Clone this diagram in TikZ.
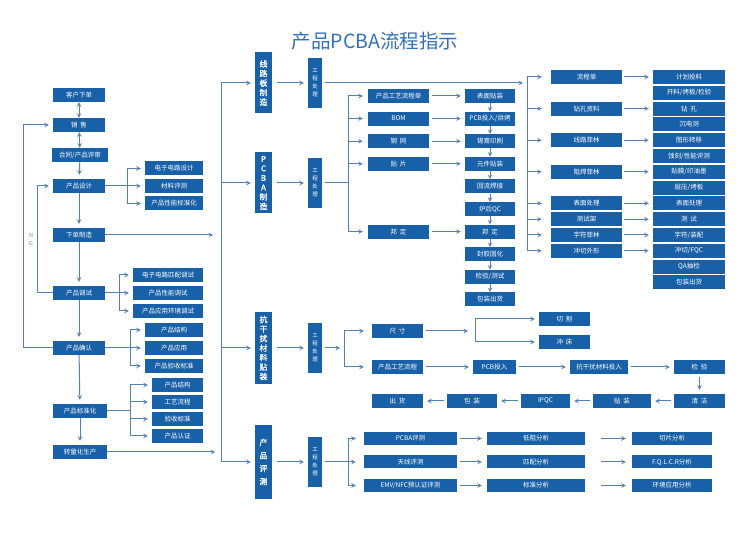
\documentclass[tikz,border=0pt]{standalone}
\usepackage{fontspec}
\newfontfamily\cjk{Noto Sans CJK SC}
\newfontfamily\cjkb[FakeBold=1.2]{Noto Sans CJK SC}
\usetikzlibrary{arrows,positioning,calc}
\definecolor{boxblue}{RGB}{24,96,168}
\definecolor{lineblue}{RGB}{84,128,180}
\definecolor{titleblue}{RGB}{52,112,184}

\begin{document}
\begin{tikzpicture}[x=1pt,y=-1pt,
    box/.style={rectangle,fill=boxblue,text=white,minimum height=14pt,inner sep=0pt,font=\cjk\fontsize{6.5}{7}\selectfont},
    wbox/.style={box,minimum width=#1pt},
    vbox/.style={rectangle,fill=boxblue,text=white,minimum width=17pt,inner sep=0pt,align=center,font=\cjkb\fontsize{8}{9.5}\selectfont},
    gbox/.style={rectangle,fill=boxblue,text=white,minimum width=14pt,minimum height=50pt,inner sep=0pt,align=center,font=\cjk\fontsize{5.5}{8}\selectfont},
    wire/.style={draw=lineblue,line width=1pt},
    arr/.style={wire,->,>=stealth,shorten >=4pt},
    darr/.style={wire,<->,>=stealth}
]
    \useasboundingbox (0,0) rectangle (750,534);
    \node[font=\cjk\fontsize{19.5}{21}\selectfont,text=titleblue] (title) at (375,41) {产品PCBA流程指示};

    % left column
    \node[wbox=52] (kh) at (79,95) {客户下单};
    \node[wbox=52] (xs) at (79,125) {销~~售};
    \node[wbox=56] (ht) at (80,155) {合同/产品评审};
    \node[wbox=52] (sj) at (79,186) {产品设计};
    \node[wbox=52] (zz) at (79,235) {下单制造};
    \node[wbox=52] (ts) at (79,293) {产品调试};
    \node[wbox=52] (qr) at (79,348) {产品确认};
    \node[wbox=54] (bz) at (80,411) {产品标准化};
    \node[wbox=54] (lc) at (80,452) {转量化生产};

    \foreach \t [count=\i] in {电子电路设计,材料评测,产品性能标准化}
        \node[wbox=58] (sj\i) at (174,151+17.5*\i) {\t};
    \foreach \t [count=\i] in {电子电路匹配调试,产品性能调试,产品应用环境调试}
        \node[wbox=70] (ts\i) at (168,257+18*\i) {\t};
    \foreach \t [count=\i] in {产品结构,产品应用,产品验收标准}
        \node[wbox=58] (qr\i) at (174,312+18*\i) {\t};
    \foreach \t [count=\i] in {产品结构,工艺流程,验收标准,产品认证}
        \node[wbox=51] (bz\i) at (177.5,368+17*\i) {\t};

    \draw[darr] (kh) -- (xs);
    \draw[darr] (xs) -- (ht);
    \draw[arr] (ht) -- (sj);
    \draw[arr] (sj) -- (zz);
    \draw[arr] (zz) -- (ts);
    \draw[arr] (ts) -- (qr);
    \draw[arr] (qr) -- (bz);
    \draw[arr] (bz) -- (lc);

    \coordinate (jsj) at (127,186);
    \draw[arr] (sj) -- (sj2);
    \foreach \i in {1,3} \draw[arr] (jsj) |- (sj\i);
    \coordinate (jts) at (119,293);
    \draw[arr] (ts) -- (ts2);
    \foreach \i in {1,3} \draw[arr] (jts) |- (ts\i);
    \coordinate (jqr) at (130,348);
    \draw[arr] (qr) -- (qr2);
    \foreach \i in {1,3} \draw[arr] (jqr) |- (qr\i);
    \coordinate (jbz) at (130,411);
    \draw[wire] (bz) -- (jbz);
    \foreach \i in {1,...,4} \draw[arr] (jbz) |- (bz\i);

    % NG loops
    \draw[arr] (qr.west) -- ++(-29,0) |- (xs.west);
    \draw[arr] (ts.west) -- ++(-15,0) |- (sj.west);
    \node[text=gray,font=\cjk\fontsize{5.5}{8}\selectfont,align=center] (ng) at (31,240) {N\\G};

    % bus
    \coordinate (bt) at (221,83);
    \coordinate (bb) at (221,462);
    \draw[arr,shorten >=4pt] (zz.east) -- ++(112,0);
    \draw[arr,shorten >=4pt] (lc.east) -- ++(112,0);
    \draw[wire] (bt) -- (bb);

    \node[vbox,minimum height=61pt] (xlb) at (263.5,83) {线\\路\\板\\制\\造};
    \node[vbox,minimum height=61pt] (pcba) at (263.5,183) {P\\C\\B\\A\\制\\造};
    \node[vbox,minimum height=72pt] (kgr) at (263.5,348) {抗\\干\\扰\\材\\料\\贴\\装};
    \node[vbox,minimum height=73pt,font=\cjkb\fontsize{8}{13}\selectfont] (cp) at (263.5,462) {产\\品\\评\\测};

    \node[gbox] (gc1) at (315,83) {工\\程\\处\\理};
    \node[gbox] (gc2) at (315,183) {工\\程\\处\\理};
    \node[gbox] (gc3) at (315,348) {工\\程\\处\\理};
    \node[gbox] (gc4) at (315,462) {工\\程\\处\\理};

    \foreach \v/\g in {xlb/gc1,pcba/gc2,kgr/gc3,cp/gc4} {
        \draw[arr] (bt |- \v) -- (\v);
        \draw[arr,shorten <=5pt] (\v) -- (\g);
    }

    % circuit board
    \foreach \t [count=\i from 0] in {计划投料,开料/烤板/检验,钻~~孔,沉电测,图形转移,蚀刻/性能评测,贴膜/印油墨,层压/烤板,表面处理,测~~试,字符/装配,冲切/FQC,QA抽检,包装出货}
        \node[wbox=72] (r\i) at (689,77+15.8*\i) {\t};
    \coordinate (j1) at (527,83);
    \draw[arr,shorten <=3pt] (gc1) -- (j1);
    \foreach \t/\k [count=\i] in {流程单/0,钻孔资料/2,线路菲林/4,阻焊菲林/6,表面处理/8,测试架/9,字符菲林/10,冲切外形/11} {
        \node[wbox=71] (m\i) at (586.5,77+15.8*\k) {\t};
        \draw[arr,shorten <=2pt] (m\i) -- (r\k);
        \draw[arr,shorten >=9pt] (j1 |- m\i) -- (m\i);
    }
    \draw[wire] (j1 |- m1) -- (j1 |- m8);

    % PCBA
    \foreach \t [count=\i from 0] in {表面贴装,PCB投入/烘烤,锡膏印刷,元件贴装,回流焊接,炉后QC,邦~~定,封胶固化,检验/测试,包装出货}
        \node[wbox=50] (p\i) at (490,96+22.6*\i) {\t};
    \foreach \i [evaluate=\i as \j using int(\i+1)] in {0,...,8}
        \draw[arr,shorten >=0pt] (p\i) -- (p\j);
    \coordinate (j2) at (348,183);
    \draw[wire,shorten <=3pt] (gc2) -- (j2);
    \foreach \t/\k [count=\i] in {产品工艺流程单/0,BOM/1,钢~~网/2,贴~~片/3,邦~~定/6} {
        \node[wbox=61] (q\i) at (398.5,96+22.6*\k) {\t};
        \draw[arr,shorten <=3pt] (q\i) -- (p\k);
        \draw[arr,shorten >=5pt] (j2 |- q\i) -- (q\i);
    }
    \draw[wire] (j2 |- q1) -- (j2 |- q5);

    % shielding material
    \node[wbox=51] (cc) at (397.5,331) {尺~~寸};
    \node[wbox=51] (gy) at (397.5,367) {产品工艺流程};
    \coordinate (j3) at (344,348);
    \draw[arr,shorten <=3pt] (gc3) -- (j3);
    \draw[wire] (j3 |- cc) -- (j3 |- gy);
    \draw[arr,shorten >=8pt] (j3 |- cc) -- (cc);
    \draw[arr,shorten >=8pt] (j3 |- gy) -- (gy);

    \node[wbox=51] (qg) at (564.5,319) {切~~割};
    \node[wbox=51] (cch) at (564.5,342) {冲~~床};
    \coordinate (j4) at (475,331);
    \draw[arr,shorten <=3pt,shorten >=7pt] (cc) -- (j4);
    \draw[wire] (j4 |- qg) -- (j4 |- cch);
    \draw[arr] (j4 |- qg) -- (qg);
    \draw[arr] (j4 |- cch) -- (cch);

    \node[wbox=43] (pcb) at (494.5,367) {PCB投入};
    \node[wbox=58] (kgt) at (599,367) {抗干扰材料投入};
    \node[wbox=51] (jy) at (699.5,367) {检~~验};
    \node[wbox=51] (qj) at (699.5,401) {清~~洁};
    \node[wbox=58] (tz) at (622,401) {贴~~装};
    \node[wbox=49] (ipqc) at (545.5,401) {IPQC};
    \node[wbox=50] (bzh) at (472,401) {包~~装};
    \node[wbox=51] (ch) at (397.5,401) {出~~货};
    \draw[arr,shorten <=3pt] (gy) -- (pcb);
    \draw[arr,shorten <=3pt] (pcb) -- (kgt);
    \draw[arr,shorten <=3pt] (kgt) -- (jy);
    \draw[arr,shorten <=3pt] (jy) -- (qj);
    \draw[arr,shorten <=3pt] (qj) -- (tz);
    \draw[arr,shorten <=3pt] (tz) -- (ipqc);
    \draw[arr,shorten <=3pt] (ipqc) -- (bzh);
    \draw[arr,shorten <=3pt] (bzh) -- (ch);

    % evaluation
    \node[wbox=93,minimum height=13pt] (e1) at (410.5,438.5) {PCBA评测};
    \node[wbox=93,minimum height=13pt] (e2) at (410.5,462) {天线评测};
    \node[wbox=93,minimum height=13pt] (e3) at (410.5,485.5) {EMV/NFC预认证评测};
    \node[wbox=98,minimum height=13pt] (f1) at (536,438.5) {低阻分析};
    \node[wbox=98,minimum height=13pt] (f2) at (536,462) {匹配分析};
    \node[wbox=98,minimum height=13pt] (f3) at (536,485.5) {标准分析};
    \node[wbox=80,minimum height=13pt] (g1) at (672,438.5) {切片分析};
    \node[wbox=80,minimum height=13pt] (g2) at (672,462) {F.Q.L.C.R分析};
    \node[wbox=80,minimum height=13pt] (g3) at (672,485.5) {环境应用分析};
    \coordinate (j5) at (348,462);
    \draw[wire,shorten <=3pt] (gc4) -- (j5);
    \draw[wire] (j5 |- e1) -- (j5 |- e3);
    \foreach \i in {1,2,3} {
        \draw[arr,shorten >=8pt] (j5 |- e\i) -- (e\i);
        \draw[arr,shorten <=3pt,shorten >=5pt] (e\i) -- (f\i);
        \draw[arr,shorten <=16pt,shorten >=6pt] (f\i) -- (g\i);
    }
\end{tikzpicture}
\end{document}
